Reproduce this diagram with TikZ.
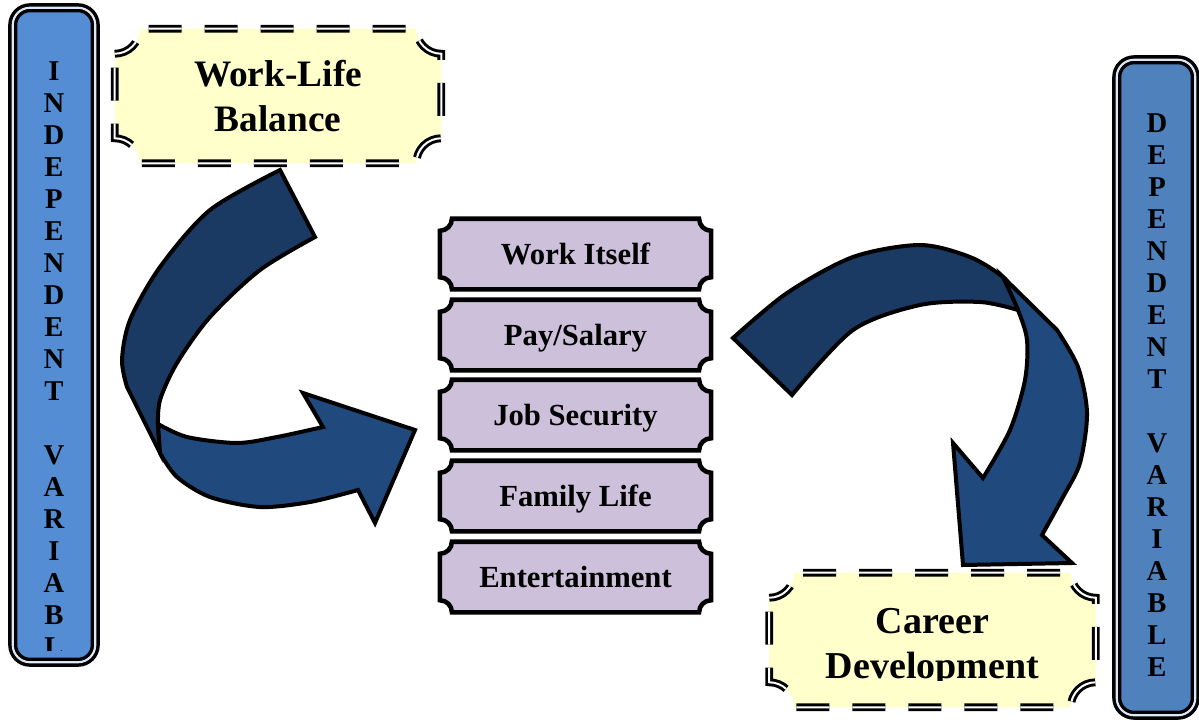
\documentclass[tikz,border=0pt]{standalone}
\usepackage{fontspec}
\setmainfont{Liberation Serif}
\usetikzlibrary{calc,backgrounds}

\definecolor{barblue}{RGB}{84,141,212}
\definecolor{barbluedark}{RGB}{79,129,189}
\definecolor{notepad}{RGB}{255,255,204}
\definecolor{lilac}{RGB}{204,192,218}
\definecolor{ribbon}{RGB}{32,74,126}
\definecolor{ribbondark}{RGB}{27,58,99}

\begin{document}
\begin{tikzpicture}[
  x=0.75pt, y=-0.75pt,
  varbar/.style={draw=black, double=white!80!barblue, double distance=1.6pt,
    line width=2.6pt, rounded corners=13pt, inner sep=0pt},
  letters/.style={align=center, inner sep=0pt, anchor=north,
    font=\fontsize{21.5}{24}\selectfont\bfseries},
  factor/.style={minimum width=203pt, minimum height=52.5pt, inner sep=0pt,
    font=\fontsize{23}{26}\selectfont\bfseries, text height=15.5pt, text depth=0pt},
  factorline/.style={draw=black, line width=3.4pt, fill=lilac},
  theme/.style={minimum width=244.5pt, minimum height=100.5pt, inner sep=0pt,
    align=center},
  themeline/.style={draw=black, double=white, double distance=1.5pt,
    line width=2.2pt, dash pattern=on 24.75pt off 17.25pt, dash phase=6pt,
    fill=notepad},
  band/.style={draw=black, line width=3pt, line join=miter}
]
\useasboundingbox (0,0) rectangle (1199,721);
\clip (0,0) rectangle (1199,721);

% variable bars
\node[varbar, fill=barblue, minimum width=61.9pt, minimum height=490.9pt]
  (indep) at (54,335) {};
\node[varbar, fill=barbluedark, minimum width=58.9pt, minimum height=491.6pt]
  (dep) at (1156,387.5) {};
\begin{scope}
  \clip (14,10) rectangle (94,650);
  \node[letters] (indeptext) at (54,61)
    {I\\N\\D\\E\\P\\E\\N\\D\\E\\N\\T\\[24pt]V\\A\\R\\I\\A\\B\\L\\E};
\end{scope}
\node[letters] (deptext) at (1157,113)
  {D\\E\\P\\E\\N\\D\\E\\N\\T\\[24pt]V\\A\\R\\I\\A\\B\\L\\E};

% independent and dependent themes
\node[theme, font=\fontsize{28}{33.75}\selectfont\bfseries] (wlb) at (278,96)
  {Work-Life\\Balance};
\node[theme] (career) at (932.5,640) {};
\begin{scope}
  \clip (768,573) rectangle (1097,680);
  \node[align=center, font=\fontsize{28.5}{33.75}\selectfont\bfseries]
    (careertext) at (932.5,647) {Career\\Development};
\end{scope}

% factors
\node[factor] (work) at (575.5,254) {Work Itself};
\node[factor] (pay) at (575.5,335) {Pay/Salary};
\node[factor] (job) at (575.5,415) {Job Security};
\node[factor] (family) at (575.5,496) {Family Life};
\node[factor] (fun) at (575.5,577) {Entertainment};

% plaque outlines with hollow corners
\begin{scope}[on background layer]
  \foreach \n in {work,pay,job,family,fun}
    \path[factorline] ($(\n.north west)+(0,12)$) arc (90:0:12)
      -- ($(\n.north east)-(12,0)$) arc (180:90:12)
      -- ($(\n.south east)-(0,12)$) arc (270:180:12)
      -- ($(\n.south west)+(12,0)$) arc (360:270:12) -- cycle;
  \foreach \n in {wlb,career}
    \path[themeline] ($(\n.north west)+(0,25)$) arc (90:0:25)
      -- ($(\n.north east)-(25,0)$) arc (180:90:25)
      -- ($(\n.south east)-(0,25)$) arc (270:180:25)
      -- ($(\n.south west)+(25,0)$) arc (360:270:25) -- cycle;
\end{scope}

% curved arrow, left
\filldraw[band, fill=ribbondark] plot[smooth] coordinates {(280,170) (210,210)
  (160,267) (130,320) (122,360) (127,387)} -- (160,453) -- (158,426)
  -- plot[smooth] coordinates {(158,426) (160,400) (177,363) (210,317)
  (260,270) (315,237)} -- cycle;
\filldraw[band, fill=ribbon] plot[smooth] coordinates {(158,424) (187,437)
  (237,443) (277,437) (323,427)} -- (303,393) -- (415,430) -- (375,523)
  -- (358,490) -- plot[smooth] coordinates {(358,490) (310,502) (260,507)
  (210,497) (177,477) (160,453)} -- cycle;

% curved arrow, right
\filldraw[band, fill=ribbondark] plot[smooth] coordinates {(733,338) (787,293)
  (853,257) (920,245) (970,257) (1003,277) (1013,292) (1018,310)}
  -- plot[smooth] coordinates {(1018,310) (980,302) (920,305) (853,330)
  (792,395)} -- cycle;
\filldraw[band, fill=ribbon] (1003,277) -- plot[smooth] coordinates {(1057,330)
  (1078,367) (1087,413) (1080,463) (1063,497) (1042,535)} -- (1072,563)
  -- (963,565) -- (953,443) -- (983,478) -- plot[smooth] coordinates {(983,478)
  (1010,430) (1025,380) (1027,340) (1018,310) (1003,277)} -- cycle;
\end{tikzpicture}
\end{document}
